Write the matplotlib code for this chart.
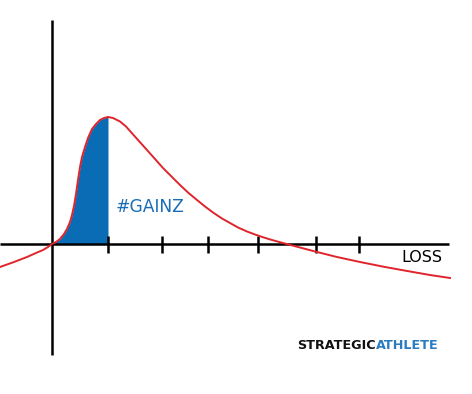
import numpy as np
import matplotlib.pyplot as plt

# curve (x in loss units, y in gain units, origin at axes cross)
curve_x = [-1.04, -0.76, -0.50, -0.32, -0.18, -0.08, 0.00, 0.08, 0.16, 0.24, 0.30,
           0.36, 0.40, 0.44, 0.48, 0.52, 0.56, 0.60, 0.66, 0.72, 0.80, 0.88, 0.96,
           1.04, 1.12, 1.22, 1.36, 1.48, 1.56, 1.72, 1.90, 2.06, 2.22, 2.40, 2.56,
           2.72, 2.90, 3.06, 3.22, 3.40, 3.56, 3.72, 3.90, 4.06, 4.22, 4.40, 4.62,
           4.96, 5.26, 5.70, 6.16, 6.66, 7.16, 7.56, 7.96]
curve_y = [-0.46, -0.36, -0.26, -0.18, -0.12, -0.06, 0.00, 0.04, 0.10, 0.20, 0.30,
           0.44, 0.58, 0.76, 1.00, 1.28, 1.54, 1.74, 1.94, 2.12, 2.30, 2.40, 2.48,
           2.52, 2.54, 2.52, 2.45, 2.35, 2.26, 2.08, 1.88, 1.70, 1.52, 1.34, 1.18,
           1.03, 0.88, 0.75, 0.63, 0.51, 0.42, 0.33, 0.25, 0.19, 0.135, 0.08, 0.02,
           -0.07, -0.15, -0.26, -0.36, -0.46, -0.55, -0.62, -0.68]
tick_x = [1.12, 2.20, 3.12, 4.12, 5.28, 6.14]
fill_end = 1.12

RED = '#e0242b'
BLUE = '#0b6cb6'

fig = plt.figure(figsize=(4.72, 3.94), dpi=100)
ax = fig.add_axes([0, 0, 1, 1])
ax.set_xlim(-1.04, 8.4)
ax.set_ylim(-3.0, 4.88)
ax.axis('off')

cx = np.array(curve_x)
cy = np.array(curve_y)
m = (cx >= 0) & (cx <= fill_end)
ax.fill_between(cx[m], 0, cy[m], color=BLUE, lw=0, zorder=2)

# axes
ax.plot([-1.04, 7.94], [0, 0], color='black', lw=1.8, zorder=3, solid_capstyle='butt')
ax.plot([0, 0], [-2.22, 4.48], color='black', lw=1.8, zorder=3, solid_capstyle='butt')
ax.vlines(tick_x, -0.18, 0.17, color='black', lw=1.8, zorder=3)

ax.plot(cx, cy, color=RED, lw=1.4, zorder=4, solid_joinstyle='round')

ax.text(1.28, 0.64, '#GAINZ', color='#1a6db5', fontsize=12.3, ha='left', va='baseline')
ax.text(7.8, -0.36, 'LOSS', color='black', fontsize=11.5, ha='right', va='baseline')

t1 = ax.text(4.9, -2.1, 'STRATEGIC', color='#111111', fontsize=9.2,
             fontweight='bold', ha='left', va='baseline')
ax.annotate('ATHLETE', xy=(1, 0), xycoords=t1, color='#2a7bc0', fontsize=9.2,
            fontweight='bold', ha='left', va='bottom')

fig.savefig('out.png', dpi=100)
